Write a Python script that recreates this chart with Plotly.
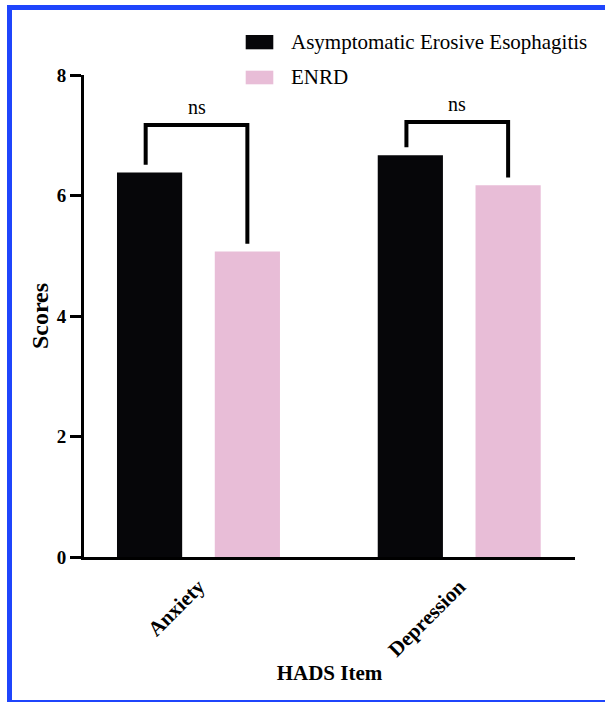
import plotly.graph_objects as go

# ---- data ----
categories = ["Anxiety", "Depression"]
series_names = ["Asymptomatic Erosive Esophagitis", "ENRD"]
aee_scores = [6.38, 6.67]
enrd_scores = [5.07, 6.17]
bracket_tops = [7.17, 7.22]
sig_labels = ["ns", "ns"]
y_ticks = [0, 2, 4, 6, 8]

FONT = "Liberation Serif"
BLACK = "#060609"
PINK = "#e8bdd7"
BLUE = "#1f45fc"

W, H = 605, 702
L, R, T, B = 84, 30, 75, 145
pw, ph = W - L - R, H - T - B

def px(x):
    return (x - L) / pw

def py(y):
    return (H - B - y) / ph

xpos = list(range(len(categories)))
bar_w = 0.25
off_a = -0.3125
off_b = 0.0625

fig = go.Figure()
fig.add_trace(go.Bar(x=xpos, y=aee_scores, name=series_names[0], width=bar_w,
                     offset=off_a, marker=dict(color=BLACK, line=dict(width=0)),
                     showlegend=False))
fig.add_trace(go.Bar(x=xpos, y=enrd_scores, name=series_names[1], width=bar_w,
                     offset=off_b, marker=dict(color=PINK, line=dict(width=0)),
                     showlegend=False))

shapes = []
annotations = []
# significance brackets
for i, c in enumerate(xpos):
    xa = c + off_a + bar_w / 2 - 0.015
    xb = c + off_b + bar_w / 2
    ya = aee_scores[i] + 0.13
    yb = enrd_scores[i] + 0.13
    top = bracket_tops[i]
    shapes.append(dict(type="path", xref="x", yref="y",
                       path=f"M{xa},{ya} L{xa},{top} L{xb},{top} L{xb},{yb}",
                       line=dict(color="black", width=4)))
    annotations.append(dict(x=(xa + xb) / 2, y=top + 0.3, xref="x", yref="y",
                            text=sig_labels[i], showarrow=False,
                            font=dict(family=FONT, size=20, color="black")))

# legend (manual)
leg_rows = [(35, 49.3, 42, BLACK), (70.7, 84.3, 77.5, PINK)]
for (y0, y1, yc, col), name in zip(leg_rows, series_names):
    shapes.append(dict(type="rect", xref="paper", yref="paper",
                       x0=px(245.7), x1=px(273.3), y0=py(y1), y1=py(y0),
                       fillcolor=col, line=dict(width=0)))
    annotations.append(dict(x=px(289), y=py(yc), xref="paper", yref="paper",
                            xanchor="left", yanchor="middle", text=name,
                            showarrow=False,
                            font=dict(family=FONT, size=21, color="black")))

# blue frame
shapes.append(dict(type="line", xref="paper", yref="paper",
                   x0=px(9.5), x1=px(9.5), y0=py(702), y1=py(5),
                   line=dict(color=BLUE, width=5)))
shapes.append(dict(type="line", xref="paper", yref="paper",
                   x0=px(7), x1=px(610), y0=py(7.5), y1=py(7.5),
                   line=dict(color=BLUE, width=5)))
shapes.append(dict(type="line", xref="paper", yref="paper",
                   x0=px(7), x1=px(610), y0=py(701), y1=py(701),
                   line=dict(color=BLUE, width=2)))

fig.update_layout(
    width=W, height=H,
    margin=dict(l=L, r=R, t=T, b=B),
    paper_bgcolor="white", plot_bgcolor="white",
    font=dict(family=FONT, color="black"),
    shapes=shapes, annotations=annotations,
    barmode="overlay",
)
fig.update_xaxes(
    range=[-0.439, 1.444], tickvals=xpos, ticktext=[f"<b>{c}</b>" for c in categories],
    tickangle=-45, tickfont=dict(family=FONT, size=21, color="black"),
    ticklabelstandoff=6,
    showline=True, linecolor="black", linewidth=3, ticks="",
    showgrid=False, zeroline=False,
    title=dict(text="<b>HADS Item</b>", font=dict(family=FONT, size=21, color="black"),
               standoff=5),
)
fig.update_yaxes(
    range=[0, 8], tickvals=y_ticks, ticktext=[f"<b>{v}</b>" for v in y_ticks],
    tickfont=dict(family=FONT, size=19, color="black"),
    showline=True, linecolor="black", linewidth=3,
    ticks="outside", ticklen=11, tickwidth=3, tickcolor="black",
    showgrid=False, zeroline=False,
    title=dict(text="<b>Scores</b>", font=dict(family=FONT, size=24, color="black"),
               standoff=2),
)

fig.write_html("out.html", config={"displayModeBar": False},
               post_script="document.body.style.margin='0';document.body.style.padding='0';")
